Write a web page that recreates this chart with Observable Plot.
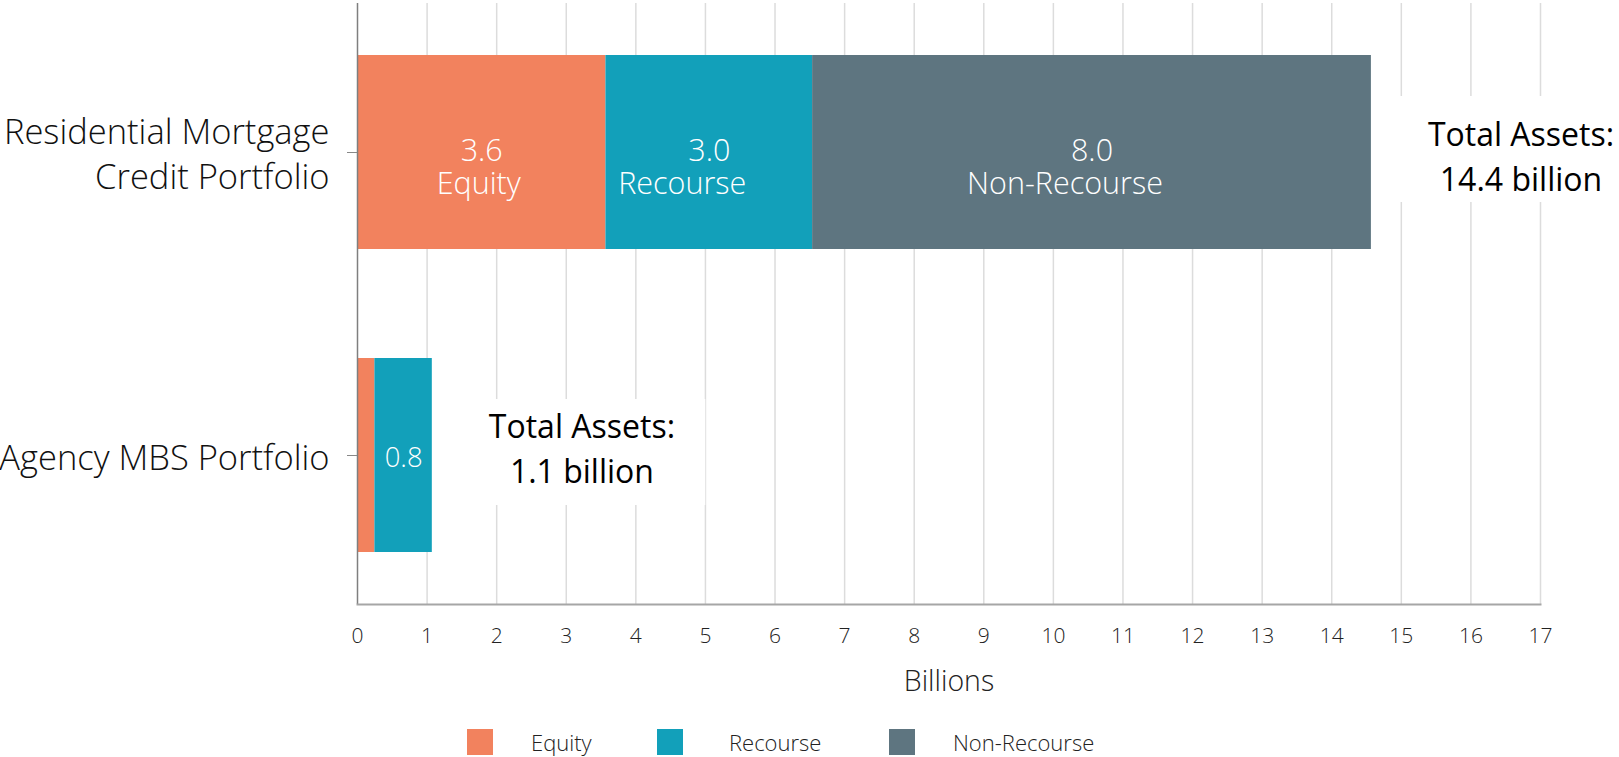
<!DOCTYPE html>
<html>
<head>
<meta charset="utf-8">
<script src="https://cdn.jsdelivr.net/npm/d3@7"></script>
<script src="https://cdn.jsdelivr.net/npm/@observablehq/plot@0.6"></script>
<style>
  html, body { margin: 0; padding: 0; background: #fff; }
  body { width: 1619px; height: 757px; overflow: hidden; font-family: "Open Sans", sans-serif; }
  #legend { position: relative; height: 42px; }
  .item { position: absolute; top: 12px; display: flex; align-items: center; height: 30px; }
  .sw { width: 26px; height: 26px; }
  .lab { font-size: 22px; line-height: 28px; color: #222; font-weight: 300; }
</style>
</head>
<body>
<div id="chart"></div>
<div id="legend"></div>
<script>
// ---- data ----
const categories = ["Residential Mortgage\nCredit Portfolio", "Agency MBS Portfolio"];
const seriesNames = ["Equity", "Recourse", "Non-Recourse"];
const seriesColors = ["#F2825E", "#12A0BA", "#5E7580"];
const equity = [3.57, 0.25];
const recourse = [2.97, 0.825];
const nonRecourse = [8.03, 0];
const valueLabels = [["3.6", "3.0", "8.0"], ["", "0.8", ""]];
const nameLabels = [["Equity", "Recourse", "Non-Recourse"], ["", "", ""]];
const totalLabels = ["Total Assets:\n14.4 billion", "Total Assets:\n1.1 billion"];
const xTicks = d3.range(0, 18);
const xAxisLabel = "Billions";

// ---- build table ----
const seriesValues = [equity, recourse, nonRecourse];
const rows = [];
categories.forEach((c, i) => {
  seriesNames.forEach((s, j) => {
    rows.push({category: c, series: s, value: seriesValues[j][i],
               valueLabel: valueLabels[i][j], nameLabel: nameLabels[i][j], row: i});
  });
});
const totals = categories.map((c, i) => ({
  category: c,
  total: seriesValues.reduce((a, v) => a + v[i], 0),
  label: totalLabels[i]
}));
const labelOffset = 2.15, boxHalf = 1.78;

const font = "Open Sans, sans-serif";
const topRow = rows.filter(d => d.row === 0);
const stackText = (data, extra) => Plot.text(data, Plot.stackX({
  x: "value", y: "category", z: "series", order: seriesNames, fill: "#fff", fontWeight: 300, ...extra
}));
const totalText = (data, dy) => Plot.text(data, {
  x: d => d.total + labelOffset, y: "category", text: "label",
  fill: "#000", fontSize: 32, lineHeight: 1.4, dy
});

const chart = Plot.plot({
  width: 1619,
  height: 715,
  marginLeft: 357,
  marginRight: 79,
  marginTop: 3,
  marginBottom: 111,
  style: {fontFamily: font, background: "#fff"},
  x: {domain: [0, 17], ticks: xTicks},
  y: {domain: categories, paddingInner: 0.36, paddingOuter: 0.17},
  color: {domain: seriesNames, range: seriesColors},
  marks: [
    Plot.gridX(xTicks.slice(1), {stroke: "#dcdcdc", strokeOpacity: 1, strokeWidth: 1.5}),
    Plot.barX(totals, {
      y: "category",
      x1: d => d.total + labelOffset - boxHalf,
      x2: d => d.total + labelOffset + boxHalf,
      fill: "#fff", insetTop: 41, insetBottom: 47
    }),
    Plot.barX(rows, Plot.stackX({x: "value", y: "category", fill: "series", z: "series", order: seriesNames})),
    Plot.ruleX([0], {stroke: "#7f7f7f", strokeWidth: 1.5}),
    Plot.frame({anchor: "bottom", stroke: "#a6a6a6", strokeWidth: 2}),
    Plot.axisX({ticks: xTicks, tickSize: 0, tickPadding: 24, fontSize: 21, fontWeight: 300, fill: "#222", label: null}),
    Plot.text([xAxisLabel], {frameAnchor: "bottom", dy: 86, fontSize: 28.5, fill: "#222", fontWeight: 300}),
    Plot.axisY({tickSize: 10, tickPadding: 18, fontSize: 34.5, fill: "#111", stroke: "#888",
                fontWeight: 300, lineHeight: 1.3, label: null, tickFormat: d => d}),
    stackText(topRow, {text: "valueLabel", fontSize: 30.5, dy: -1}),
    stackText(topRow, {text: d => d.series === seriesNames[0] ? d.nameLabel : "", fontSize: 30.5, dy: 32, dx: -3}),
    stackText(topRow, {text: d => d.series !== seriesNames[0] ? d.nameLabel : "", fontSize: 30.5, dy: 32, dx: -27}),
    stackText(rows.filter(d => d.row === 1), {text: "valueLabel", fontSize: 27.5, dy: 3}),
    totalText(totals.slice(0, 1), 2),
    totalText(totals.slice(1), -9)
  ]
});
document.getElementById("chart").appendChild(chart);

// ---- legend ----
const legend = document.getElementById("legend");
const legendLeft = [467, 657, 889];
seriesNames.forEach((s, i) => {
  const it = document.createElement("div");
  it.className = "item";
  it.style.left = legendLeft[i] + "px";
  const sw = document.createElement("div");
  sw.className = "sw";
  sw.style.background = seriesColors[i];
  const lab = document.createElement("span");
  lab.className = "lab";
  lab.style.marginLeft = (i === 1 ? 46 : 38) + "px";
  lab.textContent = s;
  it.appendChild(sw); it.appendChild(lab);
  legend.appendChild(it);
});
</script>
</body>
</html>
